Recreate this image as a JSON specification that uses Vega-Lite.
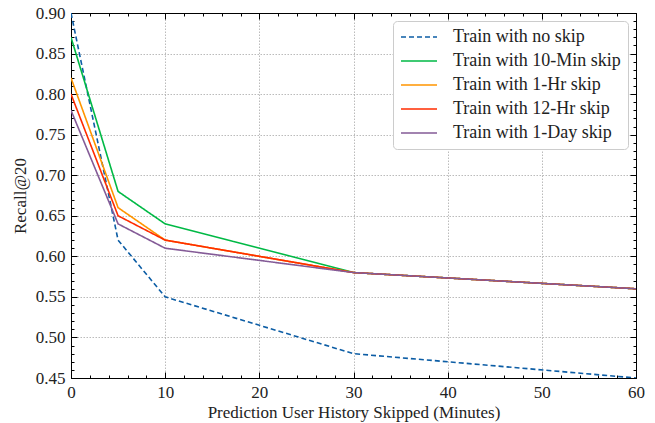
{
  "$schema": "https://vega.github.io/schema/vega-lite/v6.json",
  "width": 565,
  "height": 365,
  "autosize": {"type": "none"},
  "padding": {"left": 71, "top": 13, "right": 19, "bottom": 45},
  "background": "white",
  "config": {
    "view": {"stroke": "black", "strokeWidth": 1},
    "font": "Liberation Serif",
    "axis": {
      "labelFont": "Liberation Serif",
      "titleFont": "Liberation Serif",
      "labelFontSize": 17,
      "titleFontSize": 17,
      "titleFontWeight": "normal",
      "labelColor": "#222",
      "titleColor": "#222",
      "domainColor": "black",
      "tickColor": "black",
      "gridColor": "#aaaaaa",
      "gridDash": [1.5, 1.5],
      "gridWidth": 0.8
    },
    "legend": {
      "labelFont": "Liberation Serif",
      "labelFontSize": 18,
      "labelColor": "#222",
      "labelLimit": 0
    }
  },
  "data": {
    "values": [
      {"series": "Train with no skip", "x": 0, "y": 0.90},
      {"series": "Train with no skip", "x": 5, "y": 0.62},
      {"series": "Train with no skip", "x": 10, "y": 0.55},
      {"series": "Train with no skip", "x": 30, "y": 0.48},
      {"series": "Train with no skip", "x": 60, "y": 0.45},
      {"series": "Train with 10-Min skip", "x": 0, "y": 0.87},
      {"series": "Train with 10-Min skip", "x": 5, "y": 0.68},
      {"series": "Train with 10-Min skip", "x": 10, "y": 0.64},
      {"series": "Train with 10-Min skip", "x": 30, "y": 0.58},
      {"series": "Train with 10-Min skip", "x": 60, "y": 0.56},
      {"series": "Train with 1-Hr skip", "x": 0, "y": 0.82},
      {"series": "Train with 1-Hr skip", "x": 5, "y": 0.66},
      {"series": "Train with 1-Hr skip", "x": 10, "y": 0.62},
      {"series": "Train with 1-Hr skip", "x": 30, "y": 0.58},
      {"series": "Train with 1-Hr skip", "x": 60, "y": 0.56},
      {"series": "Train with 12-Hr skip", "x": 0, "y": 0.80},
      {"series": "Train with 12-Hr skip", "x": 5, "y": 0.65},
      {"series": "Train with 12-Hr skip", "x": 10, "y": 0.62},
      {"series": "Train with 12-Hr skip", "x": 30, "y": 0.58},
      {"series": "Train with 12-Hr skip", "x": 60, "y": 0.56},
      {"series": "Train with 1-Day skip", "x": 0, "y": 0.78},
      {"series": "Train with 1-Day skip", "x": 5, "y": 0.64},
      {"series": "Train with 1-Day skip", "x": 10, "y": 0.61},
      {"series": "Train with 1-Day skip", "x": 30, "y": 0.58},
      {"series": "Train with 1-Day skip", "x": 60, "y": 0.56}
    ]
  },
  "resolve": {"axis": {"x": "independent", "y": "independent"}},
  "layer": [
    {
      "mark": {"type": "line", "strokeWidth": 1.6, "clip": true},
      "encoding": {
        "x": {
          "field": "x", "type": "quantitative",
          "scale": {"domain": [0, 60], "nice": false, "zero": false},
          "axis": {
            "orient": "bottom",
            "title": "Prediction User History Skipped (Minutes)",
            "values": [0,2,4,6,8,10,12,14,16,18,20,22,24,26,28,30,32,34,36,38,40,42,44,46,48,50,52,54,56,58,60],
            "labelExpr": "datum.value % 10 === 0 ? format(datum.value, 'd') : ''",
            "tickSize": {"condition": {"test": "datum.value % 10 === 0", "value": -6}, "value": -3},
            "gridOpacity": {"condition": {"test": "datum.value % 10 === 0", "value": 1}, "value": 0},
            "grid": true,
            "labelPadding": 12,
            "titlePadding": 1,
            "labelFlush": false,
            "labelOverlap": false
          }
        },
        "y": {
          "field": "y", "type": "quantitative",
          "scale": {"domain": [0.45, 0.90], "nice": false, "zero": false},
          "axis": {
            "orient": "left",
            "title": "Recall@20",
            "values": [0.45,0.46,0.47,0.48,0.49,0.50,0.51,0.52,0.53,0.54,0.55,0.56,0.57,0.58,0.59,0.60,0.61,0.62,0.63,0.64,0.65,0.66,0.67,0.68,0.69,0.70,0.71,0.72,0.73,0.74,0.75,0.76,0.77,0.78,0.79,0.80,0.81,0.82,0.83,0.84,0.85,0.86,0.87,0.88,0.89,0.90],
            "labelExpr": "round(datum.value*100) % 5 === 0 ? format(datum.value, '.2f') : ''",
            "tickSize": {"condition": {"test": "round(datum.value*100) % 5 === 0", "value": -6}, "value": -3},
            "gridOpacity": {"condition": {"test": "round(datum.value*100) % 5 === 0", "value": 1}, "value": 0},
            "grid": true,
            "labelPadding": 12,
            "titlePadding": 6,
            "labelFlush": false,
            "labelOverlap": false
          }
        },
        "color": {
          "field": "series", "type": "nominal",
          "scale": {
            "domain": ["Train with no skip", "Train with 10-Min skip", "Train with 1-Hr skip", "Train with 12-Hr skip", "Train with 1-Day skip"],
            "range": ["#0C5DA5", "#00B945", "#FF9500", "#FF2C00", "#845B97"]
          },
          "legend": {
            "title": null,
            "orient": "top-right",
            "offset": 8,
            "fillColor": "white",
            "strokeColor": "#cccccc",
            "cornerRadius": 4,
            "padding": 7,
            "symbolType": "M-1.6,0H5.6",
            "symbolSize": 100,
            "symbolStrokeWidth": 1.6,
            "rowPadding": 6,
            "labelOffset": 35
          }
        },
        "strokeDash": {
          "field": "series", "type": "nominal",
          "scale": {
            "domain": ["Train with no skip", "Train with 10-Min skip", "Train with 1-Hr skip", "Train with 12-Hr skip", "Train with 1-Day skip"],
            "range": [[5, 3], [1, 0], [1, 0], [1, 0], [1, 0]]
          },
          "legend": {
            "title": null,
            "orient": "top-right",
            "offset": 8,
            "fillColor": "white",
            "strokeColor": "#cccccc",
            "cornerRadius": 4,
            "padding": 7,
            "symbolType": "M-1.6,0H5.6",
            "symbolSize": 100,
            "symbolStrokeWidth": 1.6,
            "rowPadding": 6,
            "labelOffset": 35
          }
        }
      }
    },
    {
      "mark": {"type": "line", "opacity": 0},
      "encoding": {
        "detail": {"field": "series"},
        "x": {
          "field": "x", "type": "quantitative",
          "axis": {
            "orient": "top",
            "title": null,
            "values": [0,2,4,6,8,10,12,14,16,18,20,22,24,26,28,30,32,34,36,38,40,42,44,46,48,50,52,54,56,58,60],
            "labels": false,
            "grid": false,
            "tickSize": {"condition": {"test": "datum.value % 10 === 0", "value": -6}, "value": -3}
          }
        },
        "y": {
          "field": "y", "type": "quantitative",
          "axis": {
            "orient": "right",
            "title": null,
            "values": [0.45,0.46,0.47,0.48,0.49,0.50,0.51,0.52,0.53,0.54,0.55,0.56,0.57,0.58,0.59,0.60,0.61,0.62,0.63,0.64,0.65,0.66,0.67,0.68,0.69,0.70,0.71,0.72,0.73,0.74,0.75,0.76,0.77,0.78,0.79,0.80,0.81,0.82,0.83,0.84,0.85,0.86,0.87,0.88,0.89,0.90],
            "labels": false,
            "grid": false,
            "tickSize": {"condition": {"test": "round(datum.value*100) % 5 === 0", "value": -6}, "value": -3}
          }
        }
      }
    }
  ]
}
